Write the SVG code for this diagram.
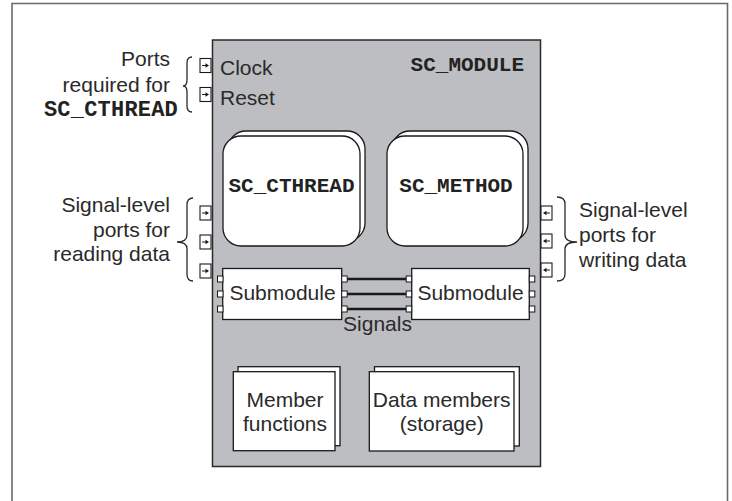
<svg xmlns="http://www.w3.org/2000/svg" width="732" height="501" viewBox="0 0 732 501">
  <defs>
    <style>
      .lbl { font-family: "Liberation Sans", Arial, sans-serif; font-size: 21px; fill: #2a2a2a; }
      .code { font-family: "Liberation Mono", "Courier New", monospace; font-size: 21px; font-weight: bold; fill: #222; }
      .box { fill: #ffffff; stroke: #1a1a1a; stroke-width: 1.3; }
      .port { fill: #ffffff; stroke: #1a1a1a; stroke-width: 1.1; }
      .pin { fill: #ffffff; stroke: #1a1a1a; stroke-width: 1; }
      .brace { fill: none; stroke: #2a2a2a; stroke-width: 1.3; }
      .sig { stroke: #1a1a1a; stroke-width: 2.4; }
      .arr { stroke: #1a1a1a; stroke-width: 1; }
    </style>
    <!-- input port: square with a small right-pointing arrow -->
    <g id="portIn">
      <rect class="port" x="0" y="0" width="11" height="14"/>
      <line class="arr" x1="2" y1="7" x2="6" y2="7"/>
      <polygon points="5.5,4.8 9,7 5.5,9.2" fill="#1a1a1a"/>
    </g>
    <!-- output port: square with a small left-pointing arrow -->
    <g id="portOut">
      <rect class="port" x="0" y="0" width="11" height="14"/>
      <line class="arr" x1="5" y1="7" x2="9" y2="7"/>
      <polygon points="5.5,4.8 2,7 5.5,9.2" fill="#1a1a1a"/>
    </g>
  </defs>

  <rect x="0" y="0" width="732" height="501" fill="#ffffff"/>

  <!-- outer frame -->
  <path d="M12,501 V3.5 H727.5 V501" fill="none" stroke="#6a6a6a" stroke-width="1.6"/>

  <!-- the module body -->
  <g id="sc_module">
    <rect x="212.5" y="40" width="328" height="426.5" fill="#bdbec1" stroke="#2a2a2a" stroke-width="1.5"/>
    <text class="code" x="524" y="71" text-anchor="end">SC_MODULE</text>
  </g>

  <!-- clock / reset ports -->
  <g id="port_clock">
    <use href="#portIn" x="200" y="58.5"/>
    <text class="lbl" x="220" y="75">Clock</text>
  </g>
  <g id="port_reset">
    <use href="#portIn" x="200" y="87.5"/>
    <text class="lbl" x="220" y="105">Reset</text>
  </g>

  <!-- left annotation: ports required for SC_CTHREAD -->
  <g id="note_cthread_ports">
    <path class="brace" d="M192,57 Q187,57 187,63 V80 Q187,86 183,86 Q187,86 187,92 V106 Q187,112 192,112"/>
    <text class="lbl" x="170" y="66" text-anchor="end">Ports</text>
    <text class="lbl" x="170" y="92" text-anchor="end">required for</text>
    <text class="code" x="178" y="116" text-anchor="end" style="font-size:22px;letter-spacing:0.2px">SC_CTHREAD</text>
  </g>

  <!-- process: SC_CTHREAD -->
  <g id="proc_cthread">
    <rect class="box" x="228" y="131" width="137" height="110" rx="18"/>
    <rect class="box" x="223" y="136" width="137" height="110" rx="18"/>
    <text class="code" x="291.5" y="192" text-anchor="middle">SC_CTHREAD</text>
  </g>

  <!-- process: SC_METHOD -->
  <g id="proc_method">
    <rect class="box" x="392" y="131" width="136" height="110" rx="18"/>
    <rect class="box" x="387" y="136" width="136" height="110" rx="18"/>
    <text class="code" x="456" y="192" text-anchor="middle">SC_METHOD</text>
  </g>

  <!-- signal-level input ports -->
  <g id="ports_read">
    <use href="#portIn" x="200" y="206"/>
    <use href="#portIn" x="200" y="235"/>
    <use href="#portIn" x="200" y="264"/>
  </g>
  <g id="note_read">
    <path class="brace" d="M193,198 Q187,198 187,205 V235 Q187,242 177,242 Q187,242 187,249 V274 Q187,281 193,281"/>
    <text class="lbl" x="170" y="212" text-anchor="end">Signal-level</text>
    <text class="lbl" x="170" y="237" text-anchor="end">ports for</text>
    <text class="lbl" x="170" y="261" text-anchor="end">reading data</text>
  </g>

  <!-- signal-level output ports -->
  <g id="ports_write">
    <use href="#portOut" x="541" y="206"/>
    <use href="#portOut" x="541" y="234"/>
    <use href="#portOut" x="541" y="263"/>
  </g>
  <g id="note_write">
    <path class="brace" d="M557,197 Q565,197 565,204 V235 Q565,242 577,242 Q565,242 565,249 V274 Q565,281 557,281"/>
    <text class="lbl" x="579" y="217">Signal-level</text>
    <text class="lbl" x="579" y="242">ports for</text>
    <text class="lbl" x="579" y="267">writing data</text>
  </g>

  <!-- signals between the submodules -->
  <g id="signals">
    <line class="sig" x1="347" y1="279" x2="406" y2="279"/>
    <line class="sig" x1="347" y1="294" x2="406" y2="294"/>
    <line class="sig" x1="347" y1="309" x2="406" y2="309"/>
    <text class="lbl" x="377.5" y="331" text-anchor="middle">Signals</text>
  </g>

  <!-- submodule (left) -->
  <g id="submodule_a">
    <rect class="box" x="222.7" y="268.5" width="119" height="51"/>
    <rect class="pin" x="217.5" y="276" width="5.5" height="6"/>
    <rect class="pin" x="217.5" y="291" width="5.5" height="6"/>
    <rect class="pin" x="217.5" y="306" width="5.5" height="6"/>
    <rect class="pin" x="341.7" y="276" width="5.5" height="6"/>
    <rect class="pin" x="341.7" y="291" width="5.5" height="6"/>
    <rect class="pin" x="341.7" y="306" width="5.5" height="6"/>
    <text class="lbl" x="282.5" y="300" text-anchor="middle">Submodule</text>
  </g>

  <!-- submodule (right) -->
  <g id="submodule_b">
    <rect class="box" x="411.7" y="268.5" width="117.6" height="51"/>
    <rect class="pin" x="406.2" y="276" width="5.5" height="6"/>
    <rect class="pin" x="406.2" y="291" width="5.5" height="6"/>
    <rect class="pin" x="406.2" y="306" width="5.5" height="6"/>
    <rect class="pin" x="529.3" y="276" width="5.5" height="6"/>
    <rect class="pin" x="529.3" y="291" width="5.5" height="6"/>
    <rect class="pin" x="529.3" y="306" width="5.5" height="6"/>
    <text class="lbl" x="470.5" y="300" text-anchor="middle">Submodule</text>
  </g>

  <!-- member functions -->
  <g id="member_functions">
    <rect class="box" x="238" y="366.7" width="102" height="79"/>
    <rect class="box" x="233.3" y="371.7" width="101.7" height="79"/>
    <text class="lbl" x="285" y="407" text-anchor="middle">Member</text>
    <text class="lbl" x="285" y="431" text-anchor="middle">functions</text>
  </g>

  <!-- data members -->
  <g id="data_members">
    <rect class="box" x="374.5" y="366.7" width="144.8" height="79.3"/>
    <rect class="box" x="369.3" y="371.7" width="144.7" height="79.3"/>
    <text class="lbl" x="441.7" y="407" text-anchor="middle">Data members</text>
    <text class="lbl" x="441.7" y="431" text-anchor="middle">(storage)</text>
  </g>
</svg>
